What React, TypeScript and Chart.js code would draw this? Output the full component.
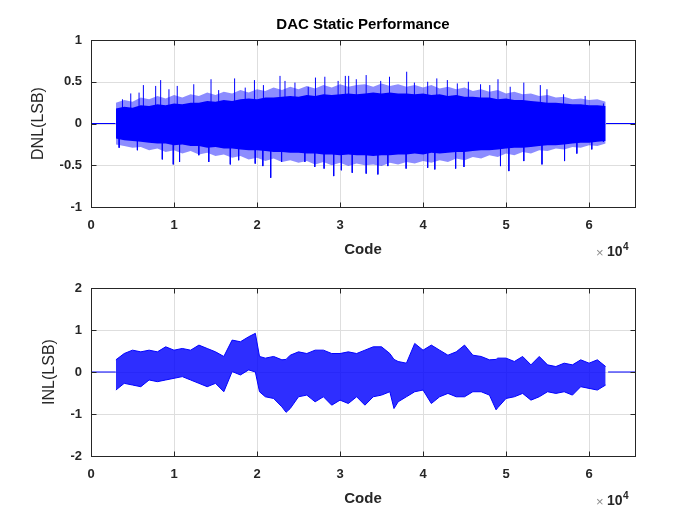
import React, { useEffect, useRef } from "react";
import { Chart, registerables } from "chart.js";
Chart.register(...registerables);

const FONT = "'Liberation Sans', Arial, Helvetica, sans-serif";
const X_MAX = 65536;
const xTickValues = [0, 10000, 20000, 30000, 40000, 50000, 60000];
const xTickLabels = ["0", "1", "2", "3", "4", "5", "6"];
const dnlYTicks = [-1, -0.5, 0, 0.5, 1];
const dnlYTickLabels = ["-1", "-0.5", "0", "0.5", "1"];
const inlYTicks = [-2, -1, 0, 1, 2];
const inlYTickLabels = ["-2", "-1", "0", "1", "2"];

// flat (zero) parts of the curves outside the measured codes
const dnlZeroSegments = [[0, 2950], [62050, 65536]];
const inlZeroSegments = [[0, 2980], [62300, 65536]];

// DNL dense core envelope
const dnlCodes = [3000, 4000, 5000, 6000, 7000, 8000, 9000, 10000, 11000, 12000,
  13000, 14000, 15000, 16000, 17000, 18000, 19000, 20000, 21000, 22000,
  23000, 24000, 25000, 26000, 27000, 28000, 29000, 30000, 31000, 32000,
  33000, 34000, 35000, 36000, 37000, 38000, 39000, 40000, 41000, 42000,
  43000, 44000, 45000, 46000, 47000, 48000, 49000, 50000, 51000, 52000,
  53000, 54000, 55000, 56000, 57000, 58000, 59000, 60000, 61000, 62000];
const dnlHi = [0.18, 0.20, 0.19, 0.22, 0.21, 0.23, 0.22, 0.24, 0.23, 0.25,
  0.25, 0.27, 0.26, 0.28, 0.27, 0.29, 0.30, 0.29, 0.31, 0.31,
  0.32, 0.33, 0.32, 0.34, 0.33, 0.35, 0.34, 0.35, 0.36, 0.35,
  0.36, 0.37, 0.36, 0.37, 0.36, 0.36, 0.35, 0.36, 0.34, 0.35,
  0.33, 0.34, 0.32, 0.32, 0.31, 0.31, 0.29, 0.30, 0.28, 0.28,
  0.27, 0.26, 0.25, 0.25, 0.24, 0.23, 0.23, 0.22, 0.22, 0.21];
const dnlLo = [-0.18, -0.20, -0.21, -0.22, -0.23, -0.24, -0.24, -0.26, -0.25, -0.27,
  -0.27, -0.29, -0.28, -0.30, -0.30, -0.31, -0.32, -0.32, -0.33, -0.34,
  -0.34, -0.35, -0.35, -0.36, -0.36, -0.37, -0.37, -0.38, -0.37, -0.38,
  -0.38, -0.39, -0.38, -0.38, -0.37, -0.37, -0.36, -0.37, -0.35, -0.36,
  -0.35, -0.34, -0.34, -0.33, -0.32, -0.32, -0.31, -0.30, -0.29, -0.29,
  -0.28, -0.27, -0.26, -0.26, -0.25, -0.24, -0.23, -0.23, -0.22, -0.21];

// DNL lighter fringe envelope (same codes)
const dnlFringeHi = [0.25, 0.28, 0.26, 0.31, 0.29, 0.33, 0.30, 0.34, 0.31, 0.35,
  0.33, 0.37, 0.34, 0.38, 0.36, 0.40, 0.37, 0.41, 0.39, 0.43,
  0.40, 0.44, 0.41, 0.45, 0.42, 0.46, 0.43, 0.47, 0.44, 0.46,
  0.47, 0.44, 0.48, 0.45, 0.47, 0.44, 0.46, 0.43, 0.46, 0.42,
  0.44, 0.41, 0.43, 0.39, 0.41, 0.38, 0.40, 0.36, 0.38, 0.35,
  0.36, 0.33, 0.34, 0.31, 0.32, 0.29, 0.30, 0.28, 0.29, 0.26];
const dnlFringeLo = [-0.25, -0.27, -0.29, -0.28, -0.32, -0.30, -0.34, -0.32, -0.36, -0.33,
  -0.37, -0.35, -0.39, -0.37, -0.41, -0.39, -0.43, -0.41, -0.45, -0.42,
  -0.46, -0.44, -0.47, -0.45, -0.49, -0.46, -0.50, -0.47, -0.51, -0.48,
  -0.50, -0.49, -0.51, -0.47, -0.49, -0.46, -0.48, -0.45, -0.47, -0.44,
  -0.46, -0.42, -0.44, -0.40, -0.42, -0.38, -0.40, -0.36, -0.38, -0.34,
  -0.36, -0.32, -0.33, -0.30, -0.31, -0.28, -0.29, -0.26, -0.27, -0.24];

// DNL tall single-code spikes
const dnlSpikeUpCodes = [3790, 4790, 5790, 6310, 7790, 8390, 9390, 10390, 12380, 14460,
  15380, 17300, 18580, 19690, 20770, 22770, 23370, 24570, 26170, 27040,
  28170, 29770, 30640, 31040, 31960, 33150, 34900, 35960, 38030, 38960,
  40560, 41660, 42930, 44130, 45460, 46930, 48040, 49030, 50500, 52140,
  54130, 54930, 56930, 59530, 61730];
const dnlSpikeUpVals = [0.29, 0.36, 0.37, 0.46, 0.45, 0.52, 0.41, 0.45, 0.47, 0.53,
  0.40, 0.54, 0.43, 0.52, 0.46, 0.57, 0.51, 0.49, 0.44, 0.55,
  0.56, 0.51, 0.57, 0.57, 0.53, 0.58, 0.51, 0.56, 0.62, 0.49,
  0.50, 0.54, 0.52, 0.48, 0.50, 0.47, 0.46, 0.53, 0.44, 0.49,
  0.46, 0.41, 0.35, 0.33, 0.24];
const dnlSpikeDownCodes = [3390, 5590, 8590, 9910, 10670, 12990, 14190, 16780, 17790, 19780,
  20700, 21650, 22960, 25760, 26960, 28080, 29240, 30160, 31470, 33150,
  34560, 35760, 37960, 40560, 41420, 43930, 44930, 49330, 50340, 52140,
  54330, 57050, 58530, 60330, 61730];
const dnlSpikeDownVals = [-0.29, -0.32, -0.43, -0.49, -0.46, -0.38, -0.46, -0.49, -0.44, -0.48,
  -0.51, -0.65, -0.46, -0.46, -0.52, -0.54, -0.63, -0.56, -0.59, -0.60,
  -0.61, -0.51, -0.54, -0.53, -0.55, -0.54, -0.52, -0.51, -0.57, -0.45,
  -0.49, -0.45, -0.36, -0.31, -0.22];

// INL envelope (local extremes)
const inlCodes = [3000, 4000, 5000, 6000, 7000, 8000, 9000, 10000, 11000, 12000,
  13000, 14000, 15000, 16000, 17000, 18000, 19000, 19800, 20300, 21000,
  22000, 23000, 23500, 24000, 25000, 26000, 27000, 28000, 29000, 30000,
  31000, 32000, 33000, 34000, 35000, 36000, 36500, 37000, 38000, 39000,
  40000, 41000, 42000, 43000, 44000, 45000, 46000, 47000, 48000, 48800,
  49000, 50000, 51000, 52000, 53000, 54000, 55000, 56000, 57000, 58000,
  59000, 60000, 61000, 62000];
const inlHi = [0.29, 0.44, 0.52, 0.48, 0.52, 0.48, 0.60, 0.52, 0.56, 0.52,
  0.64, 0.56, 0.48, 0.37, 0.76, 0.72, 0.84, 0.92, 0.37, 0.33,
  0.37, 0.29, 0.30, 0.40, 0.48, 0.44, 0.52, 0.52, 0.44, 0.44,
  0.48, 0.44, 0.52, 0.60, 0.60, 0.44, 0.30, 0.25, 0.21, 0.68,
  0.52, 0.64, 0.52, 0.40, 0.48, 0.64, 0.40, 0.37, 0.29, 0.30,
  0.33, 0.33, 0.25, 0.37, 0.17, 0.37, 0.17, 0.13, 0.21, 0.17,
  0.29, 0.21, 0.29, 0.13];
const inlLo = [-0.43, -0.27, -0.31, -0.35, -0.19, -0.23, -0.19, -0.15, -0.11, -0.19,
  -0.27, -0.35, -0.27, -0.47, 0.01, -0.07, 0.05, 0.00, -0.47, -0.59,
  -0.63, -0.83, -0.96, -0.87, -0.59, -0.55, -0.71, -0.59, -0.79, -0.67,
  -0.75, -0.59, -0.79, -0.59, -0.55, -0.47, -0.87, -0.71, -0.59, -0.47,
  -0.43, -0.75, -0.59, -0.51, -0.59, -0.59, -0.47, -0.47, -0.55, -0.90,
  -0.85, -0.63, -0.59, -0.51, -0.67, -0.59, -0.47, -0.51, -0.47, -0.55,
  -0.35, -0.39, -0.43, -0.31];

const BLUE = "#0000ff";

function pts(codes: number[], vals: number[]) {
  return codes.map((c, i) => ({ x: c, y: vals[i] }));
}
function zeroPts(segs: number[][]) {
  const out: any[] = [];
  segs.forEach((s, i) => {
    if (i > 0) out.push({ x: s[0], y: null });
    out.push({ x: s[0], y: 0 }, { x: s[1], y: 0 });
  });
  return out;
}
function spikePts(codes: number[], vals: number[]) {
  const out: any[] = [];
  codes.forEach((c, i) => {
    out.push({ x: c, y: 0 }, { x: c, y: vals[i] }, { x: c, y: null });
  });
  return out;
}

const base = { pointRadius: 0, tension: 0, spanGaps: false };

function decoPlugin(opts: any) {
  return {
    id: "deco",
    beforeDatasetsDraw(chart: any) {
      const { ctx, chartArea: a, scales } = chart;
      ctx.save();
      ctx.strokeStyle = "#dedede";
      ctx.lineWidth = 1;
      xTickValues.forEach((v) => {
        const px = Math.round(scales.x.getPixelForValue(v)) + 0.5;
        ctx.beginPath(); ctx.moveTo(px, a.top); ctx.lineTo(px, a.bottom); ctx.stroke();
      });
      opts.yTicks.forEach((v: number) => {
        const py = Math.round(scales.y.getPixelForValue(v)) + 0.5;
        ctx.beginPath(); ctx.moveTo(a.left, py); ctx.lineTo(a.right, py); ctx.stroke();
      });
      ctx.restore();
    },
    afterDraw(chart: any) {
      const { ctx, chartArea: a, scales } = chart;
      ctx.save();
      ctx.strokeStyle = "#262626";
      ctx.lineWidth = 1;
      const L = Math.round(a.left) + 0.5, R = Math.round(a.right) + 0.5;
      const T = Math.round(a.top) + 0.5, B = Math.round(a.bottom) + 0.5;
      ctx.strokeRect(L, T, R - L, B - T);
      const tl = 5;
      xTickValues.forEach((v) => {
        const px = Math.round(scales.x.getPixelForValue(v)) + 0.5;
        ctx.beginPath();
        ctx.moveTo(px, B); ctx.lineTo(px, B - tl);
        ctx.moveTo(px, T); ctx.lineTo(px, T + tl);
        ctx.stroke();
      });
      opts.yTicks.forEach((v: number) => {
        const py = Math.round(scales.y.getPixelForValue(v)) + 0.5;
        ctx.beginPath();
        ctx.moveTo(L, py); ctx.lineTo(L + tl, py);
        ctx.moveTo(R, py); ctx.lineTo(R - tl, py);
        ctx.stroke();
      });
      ctx.fillStyle = "#262626";
      ctx.font = `bold 13px ${FONT}`;
      ctx.textAlign = "center";
      ctx.textBaseline = "middle";
      xTickValues.forEach((v, i) => {
        ctx.fillText(xTickLabels[i], scales.x.getPixelForValue(v), a.bottom + 18);
      });
      ctx.textAlign = "right";
      opts.yTicks.forEach((v: number, i: number) => {
        ctx.fillText(opts.yLabels[i], a.left - 9, scales.y.getPixelForValue(v));
      });
      ctx.textAlign = "center";
      ctx.font = `bold 15px ${FONT}`;
      ctx.fillText("Code", (a.left + a.right) / 2, a.bottom + 43);
      ctx.textAlign = "left";
      ctx.fillStyle = "#8c8c8c";
      ctx.font = `13px ${FONT}`;
      ctx.fillText("\u00d7", a.right - 39, a.bottom + 46);
      ctx.fillStyle = "#262626";
      ctx.font = `bold 14px ${FONT}`;
      ctx.fillText("10", a.right - 28, a.bottom + 45);
      ctx.font = `bold 10px ${FONT}`;
      ctx.fillText("4", a.right - 12, a.bottom + 40);
      ctx.save();
      ctx.translate(opts.yLabelX, (a.top + a.bottom) / 2);
      ctx.rotate(-Math.PI / 2);
      ctx.textAlign = "center";
      ctx.font = `16px ${FONT}`;
      ctx.fillText(opts.yLabel, 0, 0);
      ctx.restore();
      if (opts.title) {
        ctx.textAlign = "center";
        ctx.font = `bold 15px ${FONT}`;
        ctx.fillStyle = "#000";
        ctx.fillText(opts.title, (a.left + a.right) / 2, a.top - 15);
      }
      ctx.restore();
    },
  };
}

function makeOptions(yMin: number, yMax: number, padding: any) {
  return {
    responsive: false,
    animation: false as const,
    devicePixelRatio: 1,
    layout: { padding },
    plugins: { legend: { display: false }, tooltip: { enabled: false }, title: { display: false } },
    scales: {
      x: { type: "linear" as const, min: 0, max: X_MAX, display: false },
      y: { type: "linear" as const, min: yMin, max: yMax, display: false },
    },
  };
}

export default function App() {
  const c1 = useRef<HTMLCanvasElement>(null);
  const c2 = useRef<HTMLCanvasElement>(null);
  useEffect(() => {
    const ch1 = new Chart(c1.current!, {
      type: "line",
      data: {
        datasets: [
          { ...base, data: pts(dnlCodes, dnlHi), borderWidth: 0, borderColor: BLUE, fill: false },
          { ...base, data: pts(dnlCodes, dnlLo), borderWidth: 0, borderColor: BLUE, fill: 0, backgroundColor: BLUE },
          { ...base, data: pts(dnlCodes, dnlFringeHi), borderWidth: 0, borderColor: BLUE, fill: false },
          { ...base, data: pts(dnlCodes, dnlFringeLo), borderWidth: 0, borderColor: BLUE, fill: 2, backgroundColor: "rgba(0,0,255,0.45)" },
          { ...base, data: spikePts(dnlSpikeUpCodes, dnlSpikeUpVals), borderWidth: 1, borderColor: BLUE, fill: false },
          { ...base, data: spikePts(dnlSpikeDownCodes, dnlSpikeDownVals), borderWidth: 1, borderColor: BLUE, fill: false },
          { ...base, data: zeroPts(dnlZeroSegments), borderWidth: 1, borderColor: BLUE, fill: false },
        ],
      },
      options: makeOptions(-1, 1, { left: 91, right: 65, top: 40, bottom: 318 }) as any,
      plugins: [decoPlugin({ yTicks: dnlYTicks, yLabels: dnlYTickLabels, yLabel: "DNL(LSB)", yLabelX: 39, title: "DAC Static Performance" })],
    });
    const ch2 = new Chart(c2.current!, {
      type: "line",
      data: {
        datasets: [
          { ...base, data: pts(inlCodes, inlHi), borderWidth: 1, borderColor: BLUE, fill: false },
          { ...base, data: pts(inlCodes, inlLo), borderWidth: 1, borderColor: BLUE, fill: 0, backgroundColor: "rgba(0,0,255,0.82)" },
          { ...base, data: zeroPts(inlZeroSegments), borderWidth: 1, borderColor: BLUE, fill: false },
        ],
      },
      options: makeOptions(-2, 2, { left: 91, right: 65, top: 288, bottom: 69 }) as any,
      plugins: [decoPlugin({ yTicks: inlYTicks, yLabels: inlYTickLabels, yLabel: "INL(LSB)", yLabelX: 50 })],
    });
    return () => { ch1.destroy(); ch2.destroy(); };
  }, []);
  const cs: React.CSSProperties = { position: "absolute", left: 0, top: 0 };
  return (
    <div style={{ position: "fixed", left: 0, top: 0, width: 700, height: 525, background: "#fff" }}>
      <canvas ref={c1} width={700} height={525} style={cs} />
      <canvas ref={c2} width={700} height={525} style={cs} />
    </div>
  );
}
